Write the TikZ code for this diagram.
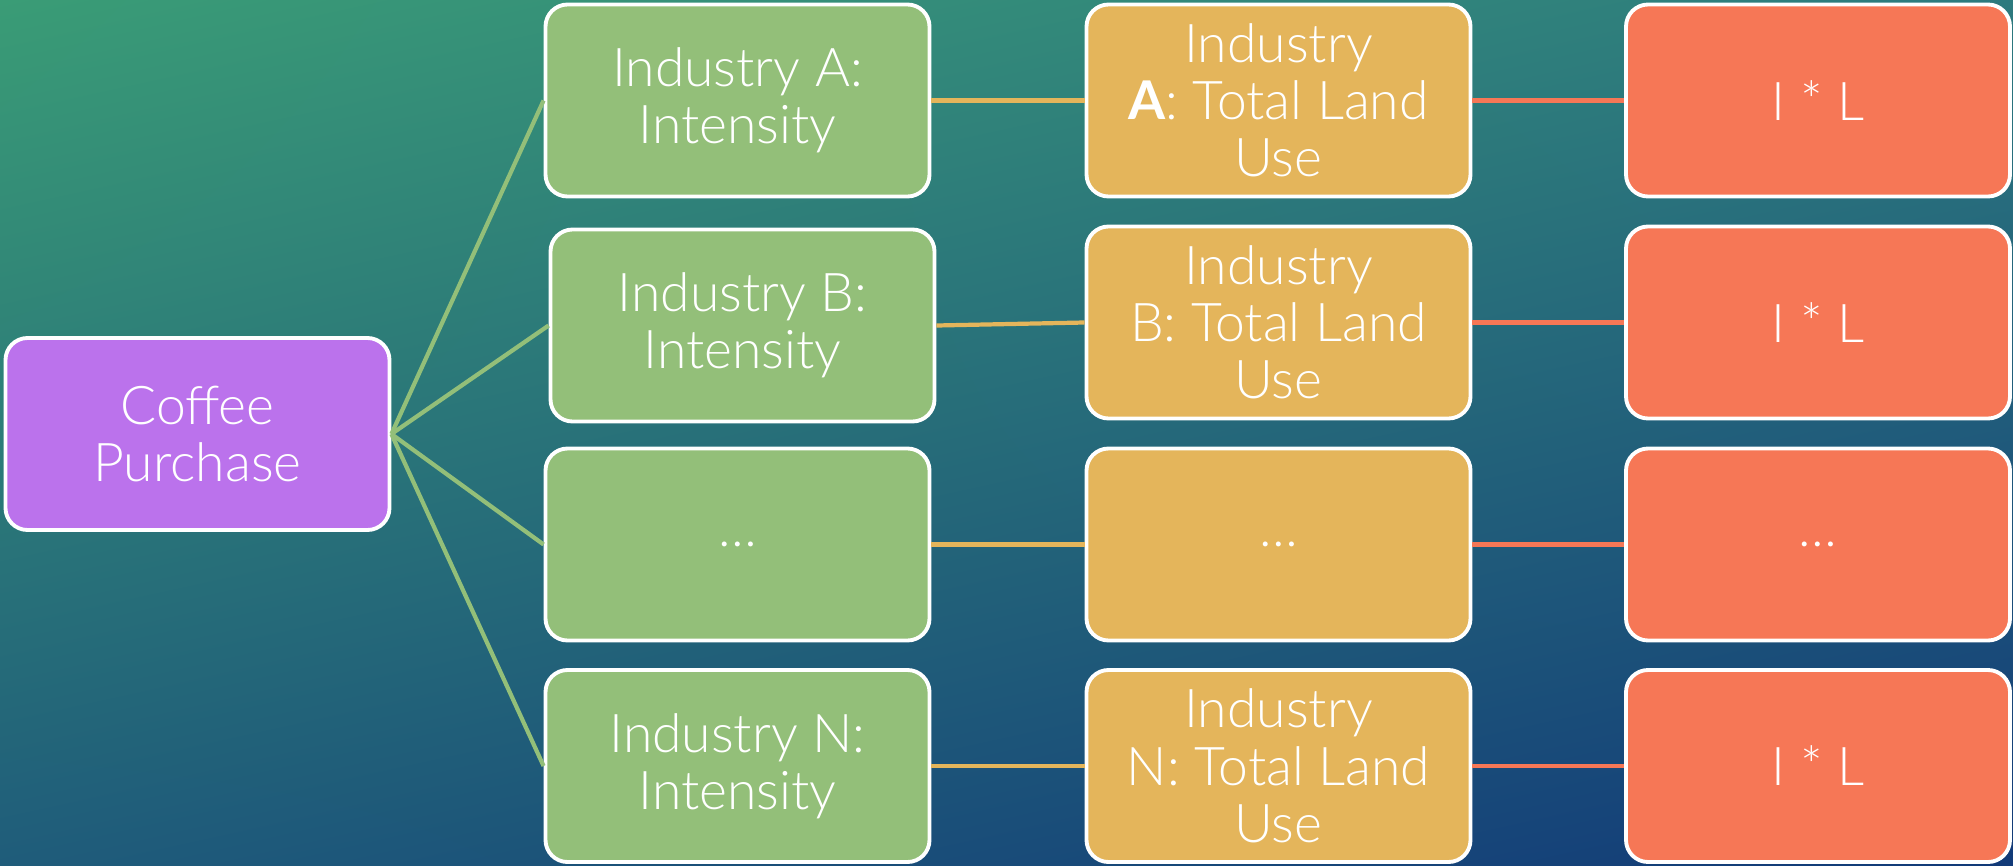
\documentclass[tikz,border=0pt]{standalone}
\usepackage{fontspec}
\setmainfont{Lato}[UprightFont=* Light, BoldFont=* Bold]
\usetikzlibrary{shadings}
\definecolor{bgUL}{HTML}{3A9C76}
\definecolor{bgUR}{HTML}{2D7A7E}
\definecolor{bgLL}{HTML}{1F5C7A}
\definecolor{bgLR}{HTML}{123A78}
\definecolor{cpurple}{HTML}{BB72EC}
\definecolor{cgreen}{HTML}{93BF79}
\definecolor{cgold}{HTML}{E4B55B}
\definecolor{corange}{HTML}{F67756}
\begin{document}
\begin{tikzpicture}[x=0.1mm,y=-0.1mm,
  box/.style={draw=white, line width=1.1pt, rounded corners=2.2mm,
    minimum width=38.4mm, minimum height=19.2mm, inner sep=0pt,
    text=white, align=center, font=\fontsize{15.2}{16.3}\selectfont},
  rootbox/.style={box, fill=cpurple},
  intbox/.style={box, fill=cgreen},
  landbox/.style={box, fill=cgold},
  prodbox/.style={box, fill=corange},
  gline/.style={draw=cgreen, line width=1.2pt},
  yline/.style={draw=cgold, line width=1.2pt},
  oline/.style={draw=corange, line width=1.2pt}]

% background
\shade[upper left=bgUL, upper right=bgUR, lower left=bgLL, lower right=bgLR]
  (0,0) rectangle (2013,865);
\useasboundingbox (0,0) rectangle (2013,865);

% root
\node[rootbox] (coffee) at (197.5,434) {Coffee\\Purchase};

% intensities
\node[intbox] (ia) at (737.5,100.5) {Industry A:\\Intensity};
\node[intbox] (ib) at (742.5,325.5) {Industry B:\\Intensity};
\node[intbox] (id) at (737.5,544.5) {\ldots};
\node[intbox] (in) at (737.5,766) {Industry N:\\Intensity};

% total land use
\node[landbox] (la) at (1278.5,100.5) {Industry\\\textbf{A}: Total Land\\Use};
\node[landbox] (lb) at (1278.5,322.5) {Industry\\B: Total Land\\Use};
\node[landbox] (ld) at (1278.5,544.5) {\ldots};
\node[landbox] (ln) at (1278.5,766) {Industry\\N: Total Land\\Use};

% products
\node[prodbox] (pa) at (1818,100.5) {I * L};
\node[prodbox] (pb) at (1818,322.5) {I * L};
\node[prodbox] (pd) at (1818,544.5) {\ldots};
\node[prodbox] (pn) at (1818,766) {I * L};

% connectors
\foreach \t in {ia,ib,id,in}
  \path[gline] (coffee.east) -- (\t.west);
\path[yline] (ia.east) -- (la.west);
\path[yline] (ib.east) -- (lb.west);
\path[yline] (id.east) -- (ld.west);
\path[yline] (in.east) -- (ln.west);
\path[oline] (la.east) -- (pa.west);
\path[oline] (lb.east) -- (pb.west);
\path[oline] (ld.east) -- (pd.west);
\path[oline] (ln.east) -- (pn.west);
\end{tikzpicture}
\end{document}
